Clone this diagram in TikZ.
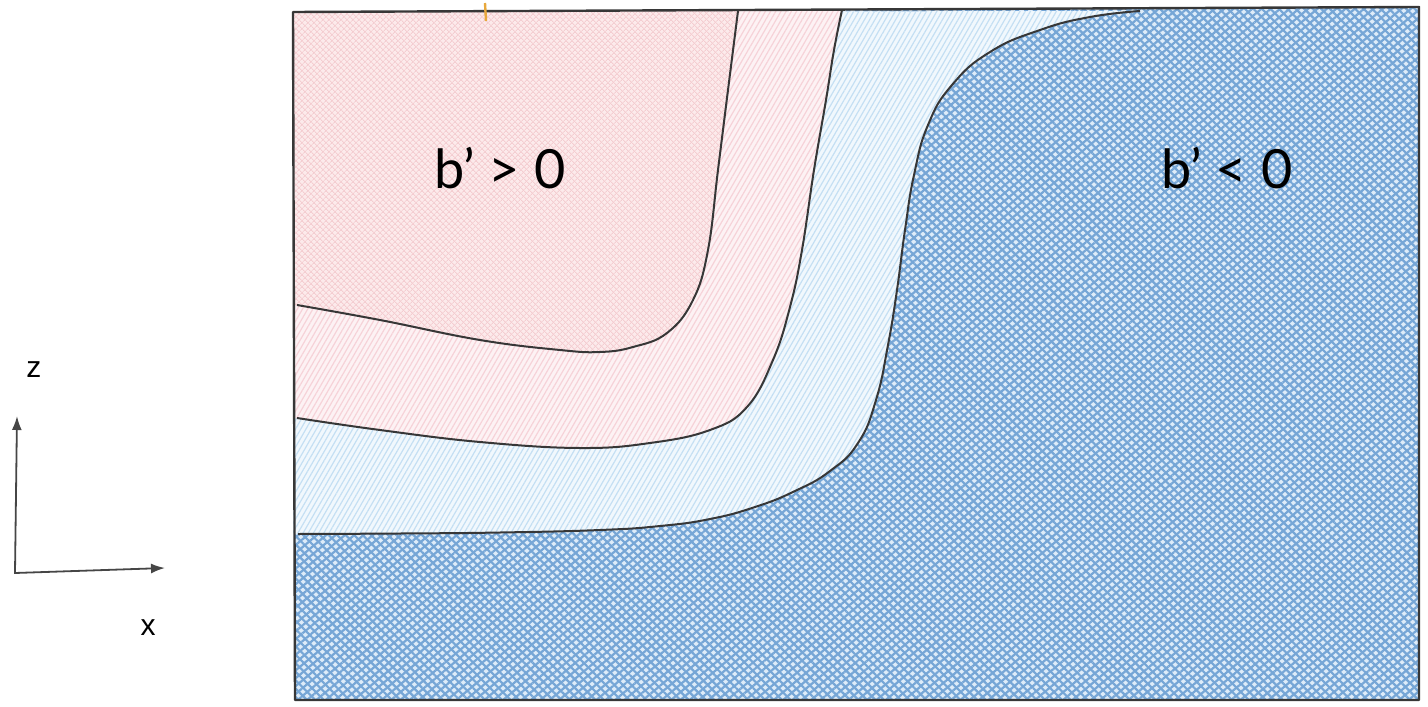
\documentclass[tikz,border=0pt]{standalone}
\usepackage{fontspec}
\setmainfont{Liberation Sans}
\newfontfamily\signfont{Lato}
\usetikzlibrary{arrows.meta,patterns.meta}
\definecolor{Ink}{RGB}{55,55,55}
\definecolor{AxisGrey}{RGB}{70,70,70}
\definecolor{TickAmber}{RGB}{232,168,60}
\definecolor{PinkBase}{RGB}{252,234,235}
\definecolor{PinkLine}{RGB}{244,205,209}
\definecolor{BlushBase}{RGB}{253,242,244}
\definecolor{BlushLine}{RGB}{246,210,216}
\definecolor{IceBase}{RGB}{241,248,253}
\definecolor{IceLine}{RGB}{196,223,243}
\definecolor{BlueBase}{RGB}{222,236,249}
\definecolor{BlueLine}{RGB}{118,166,214}
\tikzset{
  >=Latex,
  boxline/.style={draw=Ink,line width=2.4pt,line join=round},
  isoline/.style={draw=Ink,line width=2pt},
  crossPink/.style={fill=PinkBase,
    postaction={pattern={Lines[angle=45,distance=4pt,line width=.9pt]},pattern color=PinkLine},
    postaction={pattern={Lines[angle=-45,distance=4pt,line width=.9pt]},pattern color=PinkLine}},
  hatchPink/.style={fill=BlushBase,
    postaction={pattern={Lines[angle=60,distance=4.5pt,line width=1.2pt]},pattern color=BlushLine}},
  hatchIce/.style={fill=IceBase,
    postaction={pattern={Lines[angle=60,distance=4.5pt,line width=1.2pt]},pattern color=IceLine}},
  crossBlue/.style={fill=BlueBase,
    postaction={pattern={Lines[angle=40,distance=6pt,line width=2.2pt]},pattern color=BlueLine},
    postaction={pattern={Lines[angle=-45,distance=6pt,line width=2.2pt]},pattern color=BlueLine}},
  axis/.style={draw=AxisGrey,line width=1.8pt,{Latex[length=14pt,width=10pt]}-{Latex[length=14pt,width=10pt]}},
  sign/.style={font=\signfont\fontsize{54}{60}\selectfont,text=black,inner sep=0pt},
  axislabel/.style={font=\fontsize{30}{34}\selectfont,text=black,inner sep=0pt}
}
% level curves of b'
\newcommand\contourA{plot[smooth,tension=.7] coordinates {(297,305) (380,320) (480,340) (560,350) (600,352) (633,347) (667,333) (693,300) (708,250) (718,170) (728,90) (738,11)}}
\newcommand\contourB{plot[smooth,tension=.7] coordinates {(297,418) (380,430) (480,442) (580,448) (650,443) (710,430) (747,407) (773,360) (790,307) (802,250) (814,170) (826,100) (834,50) (842,10)}}
\newcommand\contourC{plot[smooth,tension=.8] coordinates {(298,534) (400,533.5) (500,532.5) (600,530) (660,526) (710,519) (755,507) (795,491) (830,471) (858,443) (876,400) (888,345) (897,290) (905,230) (914,175) (928,125) (952,85) (990,52) (1040,30) (1090,17) (1140,11)}}

\begin{document}
\begin{tikzpicture}[x=1pt,y=-1pt]
  \useasboundingbox (0,0) rectangle (1428,707);
  % regions, back to front
  \path[crossBlue] (293,12) -- (1419,7) -- (1419,700) -- (295,700) -- cycle;
  \path[hatchIce] \contourC -- (293,12) -- (293,534) -- cycle;
  \path[hatchPink] \contourB -- (293,12) -- (293,418) -- cycle;
  \path[crossPink] \contourA -- (293,12) -- (293,305) -- cycle;
  % curves
  \draw[isoline] \contourA;
  \draw[isoline] \contourB;
  \draw[isoline] \contourC;
  % frame
  \draw[boxline] (293,12) -- (1419,7) -- (1419,700) -- (295,700) -- cycle;
  \coordinate (tickTop) at (485,3);
  \coordinate (tickBot) at (486,21);
  \draw[TickAmber,line width=2.4pt] (tickTop) -- (tickBot);
  % labels
  \node[sign] (bpos) at (500,168) {b’ > 0};
  \node[sign] (bneg) at (1227,168) {b’ < 0};
  % axes
  \coordinate (origin) at (15,573);
  \coordinate (zend) at (17,416);
  \coordinate (xend) at (165,568);
  \draw[axis] (zend) -- (origin) -- (xend);
  \node[axislabel] (zlab) at (34,370) {z};
  \node[axislabel] (xlab) at (148,628) {x};
\end{tikzpicture}
\end{document}
